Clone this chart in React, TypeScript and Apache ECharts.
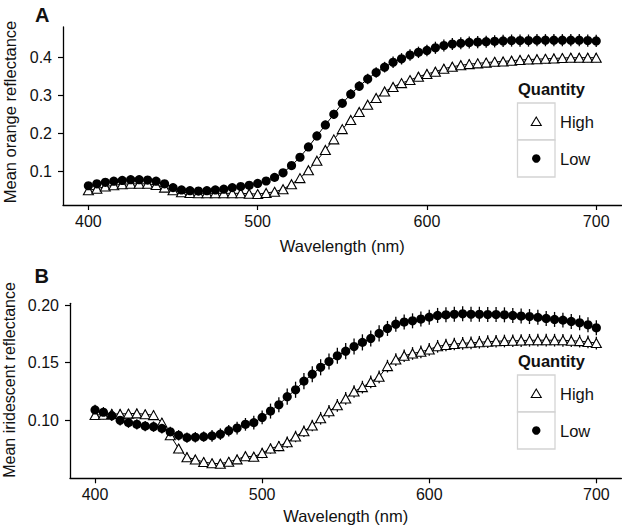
import React, { useEffect, useRef } from "react";
import * as echarts from "echarts";

const wavelength = [
  400, 405, 410, 415, 420, 425, 430, 435, 440, 445, 450, 455, 460, 465, 470, 475, 480, 485, 490, 495,
  500, 505, 510, 515, 520, 525, 530, 535, 540, 545, 550, 555, 560, 565, 570, 575, 580, 585, 590, 595,
  600, 605, 610, 615, 620, 625, 630, 635, 640, 645, 650, 655, 660, 665, 670, 675, 680, 685, 690, 695, 700,
];

// Panel A: mean orange reflectance
const orangeLow = [
  0.062, 0.067, 0.071, 0.074, 0.076, 0.078, 0.078, 0.077, 0.074, 0.067, 0.057, 0.051, 0.049, 0.048, 0.049, 0.051, 0.053, 0.057, 0.06, 0.063,
  0.068, 0.0745, 0.084, 0.096, 0.115, 0.137, 0.164, 0.193, 0.222, 0.25, 0.279, 0.303, 0.324, 0.343, 0.36, 0.374, 0.387, 0.396, 0.406, 0.413,
  0.418, 0.425, 0.431, 0.435, 0.437, 0.439, 0.44, 0.441, 0.442, 0.443, 0.444, 0.444, 0.444, 0.445, 0.445, 0.445, 0.445, 0.445, 0.445, 0.444, 0.443,
];
const orangeHigh = [
  0.05, 0.054, 0.06, 0.063, 0.066, 0.067, 0.067, 0.067, 0.064, 0.057, 0.05, 0.045, 0.043, 0.042, 0.042, 0.042, 0.042, 0.042, 0.042, 0.041,
  0.04, 0.043, 0.046, 0.053, 0.066, 0.082, 0.103, 0.128, 0.156, 0.184, 0.211, 0.235, 0.256, 0.275, 0.293, 0.31, 0.322, 0.332, 0.34, 0.349,
  0.356, 0.362, 0.37, 0.375, 0.379, 0.382, 0.384, 0.386, 0.388, 0.389, 0.391, 0.393, 0.394, 0.395, 0.396, 0.397, 0.398, 0.399, 0.399, 0.399, 0.399,
];
const orangeLowErr = [
  0.006, 0.006, 0.006, 0.006, 0.006, 0.006, 0.006, 0.006, 0.006, 0.006, 0.005, 0.005, 0.005, 0.005, 0.005, 0.005, 0.005, 0.006, 0.006, 0.006,
  0.007, 0.007, 0.008, 0.008, 0.009, 0.009, 0.01, 0.011, 0.011, 0.012, 0.012, 0.013, 0.013, 0.014, 0.014, 0.014, 0.015, 0.015, 0.015, 0.015,
  0.015, 0.016, 0.016, 0.016, 0.016, 0.016, 0.016, 0.016, 0.016, 0.016, 0.016, 0.016, 0.016, 0.016, 0.016, 0.016, 0.016, 0.016, 0.016, 0.016, 0.016,
];
const orangeHighErr = [
  0.004, 0.004, 0.004, 0.004, 0.004, 0.004, 0.004, 0.004, 0.004, 0.004, 0.004, 0.004, 0.004, 0.004, 0.004, 0.004, 0.004, 0.004, 0.004, 0.004,
  0.004, 0.005, 0.005, 0.005, 0.006, 0.006, 0.007, 0.007, 0.008, 0.008, 0.009, 0.009, 0.01, 0.01, 0.01, 0.011, 0.011, 0.011, 0.011, 0.012,
  0.012, 0.012, 0.012, 0.012, 0.012, 0.012, 0.012, 0.012, 0.012, 0.012, 0.012, 0.012, 0.012, 0.012, 0.012, 0.012, 0.012, 0.012, 0.012, 0.012, 0.012,
];

// Panel B: mean iridescent reflectance
const iridLow = [
  0.109, 0.107, 0.104, 0.1, 0.098, 0.0965, 0.095, 0.0945, 0.093, 0.09, 0.087, 0.085, 0.0853, 0.0858, 0.0865, 0.088, 0.091, 0.0933, 0.0965, 0.098,
  0.1025, 0.108, 0.1135, 0.1205, 0.1265, 0.134, 0.14, 0.146, 0.151, 0.156, 0.16, 0.164, 0.1676, 0.171, 0.1754, 0.1797, 0.1834, 0.1852, 0.1863, 0.1878,
  0.1895, 0.191, 0.1915, 0.192, 0.1924, 0.192, 0.192, 0.1918, 0.1918, 0.1915, 0.191, 0.1904, 0.19, 0.1893, 0.1884, 0.1875, 0.1869, 0.1858, 0.1846, 0.1828, 0.1802,
];
const iridHigh = [
  0.1046, 0.1049, 0.1055, 0.1055, 0.1058, 0.106, 0.1052, 0.1045, 0.098, 0.087, 0.0755, 0.068, 0.066, 0.0638, 0.0627, 0.0624, 0.064, 0.0661, 0.0688, 0.0684,
  0.0716, 0.0755, 0.0776, 0.081, 0.086, 0.0905, 0.0955, 0.1018, 0.1078, 0.113, 0.119, 0.125, 0.1288, 0.1333, 0.1377, 0.147, 0.1527, 0.156, 0.158, 0.1594,
  0.1615, 0.1642, 0.1653, 0.1662, 0.1668, 0.1672, 0.1677, 0.1682, 0.1686, 0.1688, 0.169, 0.1692, 0.1694, 0.1695, 0.1695, 0.1695, 0.1694, 0.169, 0.1687, 0.168, 0.167,
];
const iridLowErr = [
  0.0045, 0.0045, 0.0045, 0.0045, 0.0045, 0.0045, 0.0045, 0.0045, 0.0045, 0.0045, 0.0045, 0.0045, 0.0045, 0.0045, 0.005, 0.005, 0.005, 0.0055, 0.0055, 0.006,
  0.006, 0.0065, 0.0065, 0.007, 0.007, 0.007, 0.007, 0.007, 0.007, 0.007, 0.007, 0.007, 0.007, 0.007, 0.007, 0.0065, 0.0065, 0.0065, 0.0065, 0.0065,
  0.0065, 0.0065, 0.0065, 0.0065, 0.0065, 0.0065, 0.0065, 0.0065, 0.0065, 0.0065, 0.0065, 0.0065, 0.0065, 0.0065, 0.0065, 0.0065, 0.0065, 0.0065, 0.0065, 0.0065, 0.0065,
];
const iridHighErr = [
  0.004, 0.004, 0.004, 0.004, 0.004, 0.004, 0.004, 0.004, 0.004, 0.004, 0.004, 0.004, 0.004, 0.004, 0.004, 0.004, 0.004, 0.004, 0.004, 0.004,
  0.0045, 0.0045, 0.0045, 0.005, 0.005, 0.005, 0.005, 0.0055, 0.0055, 0.0055, 0.0055, 0.0055, 0.0055, 0.0055, 0.0055, 0.0055, 0.0055, 0.0055, 0.0055, 0.0055,
  0.0055, 0.0055, 0.0055, 0.0055, 0.0055, 0.0055, 0.0055, 0.0055, 0.0055, 0.0055, 0.0055, 0.0055, 0.0055, 0.0055, 0.0055, 0.0055, 0.0055, 0.0055, 0.0055, 0.0055, 0.0055,
];

const xTicks = [400, 500, 600, 700];
const yTicksA = [0.1, 0.2, 0.3, 0.4];
const yTicksB = [0.1, 0.15, 0.2];
const groupNames = ["High", "Low"];
const legendTitle = "Quantity";
const xName = "Wavelength (nm)";
const yNameA = "Mean orange reflectance";
const yNameB = "Mean iridescent reflectance";

const FONT = "'Liberation Sans', Arial, Helvetica, sans-serif";
const INK = "#111";

const pts = (vals: number[]) => wavelength.map((w, i) => [w, vals[i]]);
const errPts = (vals: number[], errs: number[]) =>
  wavelength.map((w, i) => [w, vals[i] - errs[i], vals[i] + errs[i]]);

const errRender = (params: any, api: any) => {
  const x = api.value(0);
  const lo = api.coord([x, api.value(1)]);
  const hi = api.coord([x, api.value(2)]);
  return {
    type: "line",
    shape: { x1: lo[0], y1: lo[1], x2: hi[0], y2: hi[1] },
    style: { stroke: "#000", lineWidth: 1.3 },
  };
};

const makeX = (gridIndex: number, nameGap: number) => ({
  type: "value",
  gridIndex,
  min: 385,
  max: 715,
  name: xName,
  nameLocation: "middle",
  nameGap,
  nameTextStyle: { fontSize: 16.5, color: INK, fontFamily: FONT },
  axisLine: { show: true, lineStyle: { color: "#000", width: 1.3 } },
  axisTick: { show: true, length: 5, customValues: xTicks, lineStyle: { color: "#000", width: 1.2 } },
  axisLabel: { customValues: xTicks, fontSize: 16, color: INK, fontFamily: FONT, margin: 8.5 },
  splitLine: { show: false },
});

const makeY = (gridIndex: number, min: number, max: number, ticks: number[], digits: number) => ({
  type: "value",
  gridIndex,
  min,
  max,
  axisLine: { show: true, lineStyle: { color: "#000", width: 1.3 } },
  axisTick: { show: true, length: 5, customValues: ticks, lineStyle: { color: "#000", width: 1.2 } },
  axisLabel: {
    customValues: ticks,
    fontSize: 16,
    color: INK,
    fontFamily: FONT,
    margin: 11,
    formatter: (v: number) => v.toFixed(digits),
  },
  splitLine: { show: false },
});

const lineSeries = (name: string, data: number[], idx: number, high: boolean) => ({
  type: "line",
  name,
  xAxisIndex: idx,
  yAxisIndex: idx,
  data: pts(data),
  symbol: high ? "triangle" : "circle",
  symbolSize: high ? [10, 9] : 9.2,
  showSymbol: true,
  lineStyle: { color: "#000", width: 1 },
  itemStyle: high
    ? { color: "#fff", borderColor: "#000", borderWidth: 1.1 }
    : { color: "#000", borderColor: "#000", borderWidth: 0 },
  z: high ? 3 : 4,
});

const errSeries = (data: number[], errs: number[], idx: number) => ({
  type: "custom",
  xAxisIndex: idx,
  yAxisIndex: idx,
  data: errPts(data, errs),
  encode: { x: 0, y: [1, 2] },
  renderItem: errRender,
  z: 2,
});

const legendGraphic = (top: number) => {
  const x0 = 517.5;
  const w = 37.5;
  const h = 37;
  const cx = x0 + w / 2;
  const cy1 = top + 14 + h / 2;
  const cy2 = cy1 + h;
  return [
    {
      type: "text",
      x: 518,
      y: top,
      style: { text: legendTitle, font: `bold 16.5px ${FONT}`, fill: INK, verticalAlign: "middle" },
    },
    {
      type: "rect",
      shape: { x: x0, y: top + 14, width: w, height: h },
      style: { fill: "#fff", stroke: "#d4d4d4", lineWidth: 1.3 },
    },
    {
      type: "rect",
      shape: { x: x0, y: top + 14 + h, width: w, height: h },
      style: { fill: "#fff", stroke: "#d4d4d4", lineWidth: 1.3 },
    },
    {
      type: "polygon",
      shape: { points: [[cx - 5, cy1 + 4], [cx + 5, cy1 + 4], [cx, cy1 - 4.5]] },
      style: { fill: "#fff", stroke: "#000", lineWidth: 1.1 },
    },
    {
      type: "circle",
      shape: { cx, cy: cy2, r: 4.2 },
      style: { fill: "#000" },
    },
    {
      type: "text",
      x: 560,
      y: cy1,
      style: { text: groupNames[0], font: `16.5px ${FONT}`, fill: INK, verticalAlign: "middle" },
    },
    {
      type: "text",
      x: 560,
      y: cy2,
      style: { text: groupNames[1], font: `16.5px ${FONT}`, fill: INK, verticalAlign: "middle" },
    },
  ];
};

export default function App() {
  const ref = useRef<HTMLDivElement>(null);
  useEffect(() => {
    document.body.style.margin = "0";
    if (!ref.current) return;
    const chart = echarts.init(ref.current, undefined, { renderer: "svg" });
    chart.setOption({
      animation: false,
      backgroundColor: "#fff",
      textStyle: { fontFamily: FONT },
      grid: [
        { left: 63, top: 27, width: 558.6, height: 178 },
        { left: 70, top: 303.3, width: 551.4, height: 175 },
      ],
      xAxis: [makeX(0, 32.5), makeX(1, 29.5)],
      yAxis: [makeY(0, 0.0113, 0.4797, yTicksA, 1), makeY(1, 0.0497, 0.2015, yTicksB, 2)],
      series: [
        errSeries(orangeHigh, orangeHighErr, 0),
        errSeries(orangeLow, orangeLowErr, 0),
        lineSeries(groupNames[0], orangeHigh, 0, true),
        lineSeries(groupNames[1], orangeLow, 0, false),
        errSeries(iridHigh, iridHighErr, 1),
        errSeries(iridLow, iridLowErr, 1),
        lineSeries(groupNames[0], iridHigh, 1, true),
        lineSeries(groupNames[1], iridLow, 1, false),
      ],
      graphic: [
        { type: "text", x: 35, y: 14.5, style: { text: "A", font: `bold 20px ${FONT}`, fill: INK, verticalAlign: "middle" } },
        { type: "text", x: 34.5, y: 275.5, style: { text: "B", font: `bold 20px ${FONT}`, fill: INK, verticalAlign: "middle" } },
        {
          type: "text",
          x: 9.5,
          y: 112,
          rotation: Math.PI / 2,
          style: { text: yNameA, font: `16.5px ${FONT}`, fill: INK, align: "center", verticalAlign: "middle" },
        },
        {
          type: "text",
          x: 9.5,
          y: 380,
          rotation: Math.PI / 2,
          style: { text: yNameB, font: `16px ${FONT}`, fill: INK, align: "center", verticalAlign: "middle" },
        },
        ...legendGraphic(89),
        ...legendGraphic(361),
      ],
    });
    return () => chart.dispose();
  }, []);
  return <div ref={ref} style={{ width: 622, height: 528 }} />;
}
